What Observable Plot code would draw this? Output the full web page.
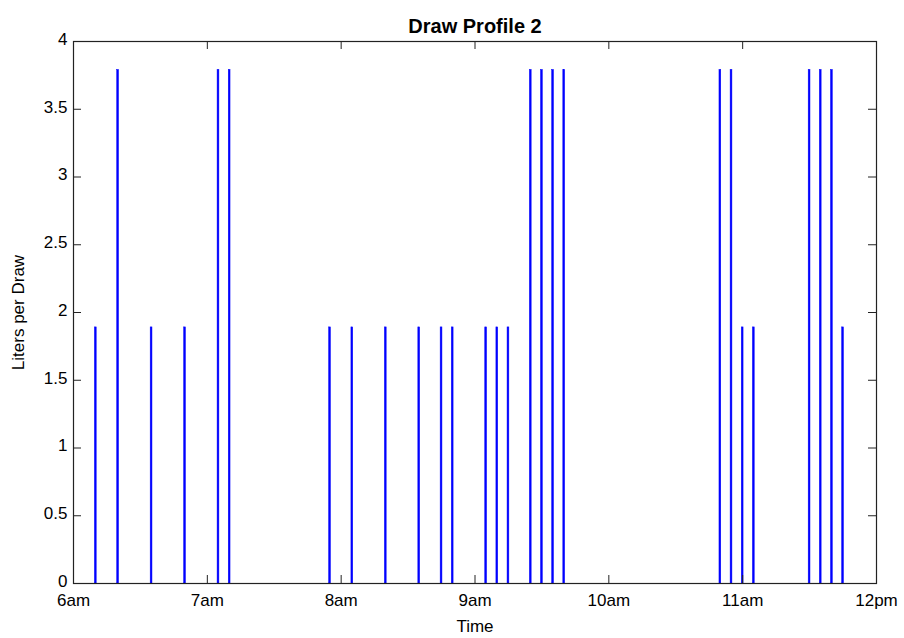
<!DOCTYPE html>
<html><head><meta charset="utf-8">
<script src="https://cdn.jsdelivr.net/npm/d3@7"></script>
<script src="https://cdn.jsdelivr.net/npm/@observablehq/plot@0.6"></script>
<style>body{margin:0;background:#fff;} svg{display:block}</style>
</head><body><div id="chart"></div>
<script>
// Draw events: clock time and liters per draw
const drawTimes = ["6:10","6:20","6:35","6:50","7:05","7:10","7:55","8:05","8:20","8:35","8:45","8:50","9:05","9:10","9:15","9:25","9:30","9:35","9:40","10:50","10:55","11:00","11:05","11:30","11:35","11:40","11:45"];
const drawLiters = [1.89,3.79,1.89,1.89,3.79,3.79,1.89,1.89,1.89,1.89,1.89,1.89,1.89,1.89,1.89,3.79,3.79,3.79,3.79,3.79,3.79,1.89,1.89,3.79,3.79,3.79,1.89];
const xTickHours = [6,7,8,9,10,11,12];
const xTickLabels = ["6am","7am","8am","9am","10am","11am","12pm"];
const yTicks = [0,0.5,1,1.5,2,2.5,3,3.5,4];
const yTickLabels = ["0","0.5","1","1.5","2","2.5","3","3.5","4"];

const toMin = s => { const [h,m] = s.split(":").map(Number); return h*60+m; };
const data = drawTimes.map((t,i) => ({t: toMin(t), v: drawLiters[i]}));
const xTicks = xTickHours.map(h => h*60);

const W=904, H=638, mL=73, mR=28, mT=41, mB=55;
const pH = H-mT-mB, pW = W-mL-mR, tk = 8;
const axisColor = "#222";

const chart = Plot.plot({
  width: W, height: H,
  marginLeft: mL, marginRight: mR, marginTop: mT, marginBottom: mB,
  style: {fontFamily: "'Liberation Sans', Arial, sans-serif", fontSize: "17px", color: "#000", background: "#fff"},
  x: {type: "linear", domain: [360, 720]},
  y: {domain: [0, 4]},
  marks: [
    Plot.rect(data, {x1: d => d.t - 0.4, x2: d => d.t + 0.4, y1: 0, y2: "v", fill: "#0000ff", stroke: "#0000ff", strokeWidth: 0.5}),
    // inward ticks
    Plot.tickX(xTicks, {x: d => d, insetTop: pH - tk, stroke: axisColor}),
    Plot.tickX(xTicks, {x: d => d, insetBottom: pH - tk, stroke: axisColor}),
    Plot.tickY(yTicks, {y: d => d, insetRight: pW - tk, stroke: axisColor}),
    Plot.tickY(yTicks, {y: d => d, insetLeft: pW - tk, stroke: axisColor}),
    Plot.frame({stroke: axisColor, strokeWidth: 1.2}),
    Plot.axisX({ticks: xTicks, tickSize: 0, tickPadding: 10, tickFormat: d => xTickLabels[xTicks.indexOf(d)],
      label: "Time", labelAnchor: "center", labelArrow: false, labelOffset: 48, fontSize: 17}),
    Plot.axisY({ticks: yTicks, tickSize: 0, tickPadding: 6, dy: -2, tickFormat: d => yTickLabels[yTicks.indexOf(d)],
      label: "Liters per Draw", labelAnchor: "center", labelArrow: false, labelOffset: 62, fontSize: 17}),
    Plot.text(["Draw Profile 2"], {frameAnchor: "top", dy: -23, fontWeight: "bold", fontSize: 20, text: d => d})
  ]
});
document.getElementById("chart").appendChild(chart);
</script>
</body></html>
